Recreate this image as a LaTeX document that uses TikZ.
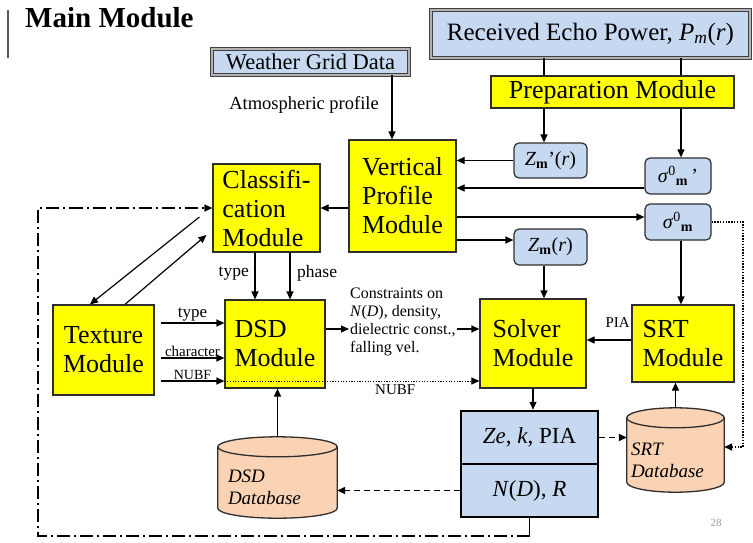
\documentclass[tikz,border=0pt]{standalone}
\usepackage{fontspec}
\setmainfont{Liberation Serif}
\usetikzlibrary{arrows.meta,calc}

\definecolor{modyellow}{HTML}{FFFF00}
\definecolor{datablue}{HTML}{C6D9F1}
\definecolor{dbpeach}{HTML}{FAD3B4}
\definecolor{edgegray}{HTML}{2E2E2E}

\newcommand\setfs[2]{\fontsize{#1}{#2}\selectfont}

\pgfdeclarelayer{paper}
\pgfdeclarelayer{under}
\pgfsetlayers{paper,under,main}

% database cylinder drawn around a node that holds the body below the top ellipse
\newcommand\drawcyl[1]{%
  \path[fill=dbpeach, draw=edgegray, line width=1.3pt]
    let \p1=(#1.north west), \p2=(#1.south east), \n1={(\x2-\x1)/2} in
    (\x1,\y1+10pt) -- (\x1,\y2+10pt)
    arc[start angle=180,end angle=360,x radius=\n1,y radius=10pt]
    -- (\x2,\y1+10pt)
    arc[start angle=0,end angle=180,x radius=\n1,y radius=10pt] -- cycle;
  \draw[draw=edgegray, line width=1.3pt]
    let \p1=(#1.north west), \p2=(#1.south east), \n1={(\x2-\x1)/2} in
    (\x1,\y1+10pt) arc[start angle=180,end angle=360,x radius=\n1,y radius=10pt];
}

\tikzset{
  module/.style={draw=edgegray, line width=1.2pt, fill=modyellow, align=left,
    inner sep=3pt, font=\setfs{26}{29}},
  databox/.style={draw=edgegray, line width=1.2pt, fill=datablue,
    rounded corners=5pt, inner sep=2pt, font=\setfs{20}{24}},
  srcbox/.style={draw=black!75, double=black!30, double distance=1.6pt,
    line width=0.8pt, fill=datablue, inner sep=2pt},
  resbox/.style={draw=black, line width=2.5pt, fill=datablue,
    minimum width=137pt, minimum height=53pt, font=\setfs{23}{26}},
  dbnode/.style={inner ysep=0pt, align=left, font=\itshape\setfs{19}{22}},
  arr/.style={line width=1.2pt, -{Triangle[length=8pt,width=7pt]}},
  plain/.style={line width=1.2pt},
  dashedarr/.style={line width=1.3pt, dash pattern=on 6pt off 4pt,
    -{Triangle[length=8pt,width=7pt]}},
  dottedarr/.style={line width=1.5pt, dash pattern=on 1.4pt off 1.4pt,
    -{Triangle[length=8pt,width=7pt]}},
  thindot/.style={line width=0.9pt, dash pattern=on 1.2pt off 1.5pt,
    -{Triangle[length=8pt,width=7pt]}},
  dashdotarr/.style={line width=1.6pt, dash pattern=on 13pt off 4pt on 2pt off 4pt,
    -{Triangle[length=8pt,width=7pt]}},
  lbl/.style={inner sep=1pt, font=\setfs{15}{18}},
}

\begin{document}
\begin{tikzpicture}[x=1pt,y=-1pt]
\begin{pgfonlayer}{paper}
  \fill[white] (0,0) rectangle (753,542);
\end{pgfonlayer}
\useasboundingbox (0,0) rectangle (753,542);

% heading
\node[anchor=base west, inner sep=0pt, font=\bfseries\setfs{29}{32}] (title) at (25,27) {Main Module};
\draw[line width=1.2pt, black!65] (8,10) -- (8,58);

% inputs
\node[srcbox, minimum width=197pt, minimum height=26pt, font=\setfs{22.5}{24}] (weather) at (310.5,62) {Weather Grid Data};
\node[srcbox, minimum width=319pt, minimum height=48pt, font=\setfs{25}{28}] (echo) at (590.5,34)
  {Received Echo Power, \textit{P}\textsubscript{\textit{m}}(\textit{r})};
\node[module, minimum width=243pt, minimum height=32pt, align=center] (prep) at (612.5,92) {Preparation Module};

% radar quantities
\node[databox, minimum width=73pt, minimum height=35pt] (zmp) at (550.5,160.5)
  {\textit{Z}\textsubscript{\textbf{m}}’(\textit{r})};
\node[databox, minimum width=66pt, minimum height=36pt] (sigp) at (678,176)
  {\textit{σ}\textsuperscript{0}\textsubscript{\textbf{m}}\,’};
\node[databox, minimum width=66pt, minimum height=36pt] (sig) at (678,222)
  {\textit{σ}\textsuperscript{0}\textsubscript{\textbf{m}}};
\node[databox, minimum width=73pt, minimum height=36pt] (zm) at (550.5,247)
  {\textit{Z}\textsubscript{\textbf{m}}(\textit{r})};

% modules
\node[module, minimum width=107pt, minimum height=112pt] (vp) at (402.5,196) {Vertical\\Profile\\Module};
\node[module, minimum width=107pt, minimum height=88pt] (class) at (266.5,208) {Classifi-\\cation\\Module};
\node[module, minimum width=101pt, minimum height=90pt, align=center] (tex) at (103.5,350) {Texture\\Module};
\node[module, minimum width=100pt, minimum height=88pt] (dsd) at (275,344) {DSD\\Module};
\node[module, minimum width=106pt, minimum height=89pt] (solver) at (533,343.5) {Solver\\Module};
\node[module, minimum width=102pt, minimum height=77pt] (srt) at (683,343.5) {SRT\\Module};

% results
\node[resbox] (res1) at (529.5,437.5) {\textit{Ze}, \textit{k}, PIA};
\node[resbox] (res2) at (529.5,490.5) {\textit{N}(\textit{D}), \textit{R}};

% databases
\node[dbnode, text width=99pt, inner xsep=10pt, minimum height=61pt] (dsddb) at (277.5,487.5) {DSD\\Database};
\node[dbnode, text width=89pt, inner xsep=4pt, minimum height=64pt] (srtdb) at (675.5,460) {SRT\\Database};
\begin{pgfonlayer}{under}
  \drawcyl{dsddb}
  \drawcyl{srtdb}
\end{pgfonlayer}

% helper positions
\coordinate (c1) at (544,0);
\coordinate (c2) at (681,0);
\coordinate (c3) at (743,0);
\coordinate (c5) at (255,0);
\coordinate (c6) at (290,0);
\coordinate (c7) at (533,0);
\coordinate (yc) at (0,329);
\coordinate (yp) at (0,340);
\coordinate (fb) at (38,536);
\coordinate (s0) at ($(sigp.west)+(0,12)$);
\coordinate (s1) at ($(sig.west)+(0,-5)$);
\coordinate (s2) at ($(zm.west)+(0,-7)$);
\coordinate (t1) at ($(tex.east)+(6,-27)$);
\coordinate (t2) at ($(tex.east)+(6,8)$);
\coordinate (t3) at ($(tex.east)+(6,31)$);
\coordinate (dbin) at ($(srtdb.east)+(0,-13)$);
\coordinate (d1) at ($(dsddb.north)+(0,-20)$);
\coordinate (d2) at ($(srtdb.north)+(0,-20)$);

% top part
\draw[arr] ([xshift=81.5pt]weather.south) -- ([xshift=81.5pt]weather.south |- vp.north);
\node[anchor=east, inner sep=1pt, font=\setfs{18.5}{21}] (atm) at (380,105) {Atmospheric profile};
\draw[plain] (echo.south -| c1) -- (prep.north -| c1);
\draw[plain] (echo.south -| c2) -- (prep.north -| c2);
\draw[arr] (prep.south -| c1) -- (zmp.north -| c1);
\draw[arr] (prep.south -| c2) -- (sigp.north -| c2);
\draw[arr] (zmp.west) -- (zmp.west -| vp.east);
\draw[arr] (s0) -- (s0 -| vp.east);
\draw[arr] (s1 -| vp.east) -- (s1);
\draw[arr] (s2 -| vp.east) -- (s2);
\draw[arr] (zm.south -| c1) -- (solver.north -| c1);
\draw[arr] (sig.south -| c2) -- (srt.north -| c2);
\draw[dottedarr] (sig.east) -- (sig.east -| c3) -- (c3 |- dbin) -- (dbin);

% classification and texture
\draw[arr] (class.east -| vp.west) -- (class.east);
\draw[arr] ($(class.west)+(-13,9)$) -- ($(tex.north)+(-13.5,0)$);
\draw[arr] ($(tex.north)+(21.5,0)$) -- ($(class.west)+(-6,27)$);
\draw[arr] (class.south -| c5) -- (dsd.north -| c5);
\draw[arr] (class.south -| c6) -- (dsd.north -| c6);
\node[lbl, anchor=east, font=\setfs{17.5}{20}] (ltype2) at (250,273) {type};
\node[lbl, anchor=west, font=\setfs{17.5}{20}] (lphase) at (296,273) {phase};

\draw[arr] (t1) -- (t1 -| dsd.west) node[midway, above, lbl, font=\setfs{17}{19}] (ltype) {type};
\draw[arr] (t2) -- (t2 -| dsd.west) node[midway, above, lbl, font=\setfs{15}{17}] (lchar) {character};
\draw[arr] (t3) -- (t3 -| dsd.west) node[midway, above, lbl, font=\setfs{14}{16}] (lnubf) {NUBF};
\draw[thindot] (t3 -| dsd.west) -- (t3 -| solver.west) node[pos=0.67, below=2pt, lbl, font=\setfs{15}{17}] (lnubf2) {NUBF};

% DSD to solver
\node[lbl, anchor=west, align=left, font=\setfs{16}{18.2}] (cons) at (349,322)
  {Constraints on\\\textit{N}(\textit{D}), density,\\dielectric const.,\\falling vel.};
\draw[arr] (dsd.east |- yc) -- (cons.west |- yc);
\draw[arr] (cons.east |- yc) -- (solver.west |- yc);

% SRT to solver
\draw[arr] (srt.west |- yp) -- (solver.east |- yp);
\node[lbl, anchor=base east] (pia) at (631,327) {PIA};

% results and databases
\draw[arr] (solver.south -| c7) -- (res1.north -| c7);
\draw[dashedarr] (res1.east) -- (res1.east -| srtdb.west);
\draw[dashedarr] (res2.west) -- (res2.west -| dsddb.east);
\draw[arr] (d1) -- (d1 |- dsd.south);
\draw[arr] (d2) -- (d2 |- srt.south);

% feedback loop
\draw[line width=1.5pt] (res2.south) -- (res2.south |- fb);
\draw[dashdotarr] (res2.south |- fb) -- (fb) -- (fb |- class.west) -- (class.west);

\node[font=\setfs{11}{13}, text=black!40] (pg) at (716,523) {28};
\end{tikzpicture}
\end{document}
